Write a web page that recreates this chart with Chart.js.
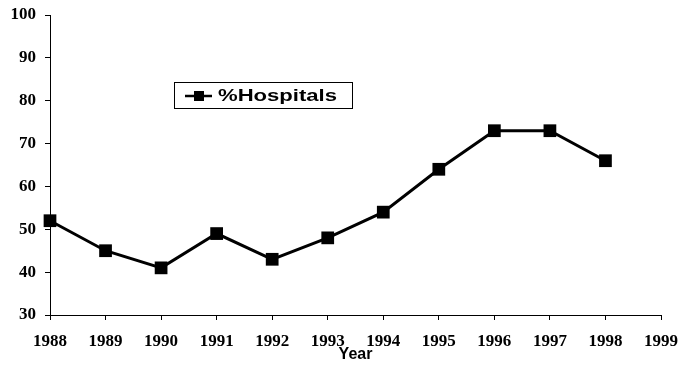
<!DOCTYPE html>
<html>
<head>
<meta charset="utf-8">
<script src="https://cdn.jsdelivr.net/npm/chart.js@4/dist/chart.umd.min.js"></script>
<style>
html,body{margin:0;padding:0;background:#fff;}
canvas{display:block;}
</style>
</head>
<body>
<canvas id="c" width="693" height="368"></canvas>
<script>
const years = ['1988','1989','1990','1991','1992','1993','1994','1995','1996','1997','1998','1999'];
const seriesName = '%Hospitals';
const hospitals = [52, 45, 41, 49, 43, 48, 54, 64, 73, 73, 66];
const yTicks = [30, 40, 50, 60, 70, 80, 90, 100];
const xTitle = 'Year';

const legendBox = {
  id: 'legendBox',
  afterDraw(chart) {
    const ctx = chart.ctx;
    ctx.save();
    ctx.strokeStyle = '#000';
    ctx.lineWidth = 1;
    ctx.strokeRect(174.5, 82.5, 178, 26);
    ctx.lineWidth = 2.5;
    ctx.beginPath();
    ctx.moveTo(185, 96);
    ctx.lineTo(212, 96);
    ctx.stroke();
    ctx.fillStyle = '#000';
    ctx.fillRect(194, 91, 10, 10);
    ctx.font = 'bold 17px "Liberation Sans", Arial, sans-serif';
    ctx.textBaseline = 'middle';
    ctx.textAlign = 'left';
    const w = ctx.measureText(seriesName).width;
    ctx.translate(218, 96);
    ctx.scale(119 / w, 1);
    ctx.fillText(seriesName, 0, 0);
    ctx.restore();
  }
};

new Chart(document.getElementById('c'), {
  type: 'line',
  data: {
    labels: years,
    datasets: [{
      label: seriesName,
      data: hospitals,
      borderColor: '#000',
      backgroundColor: '#000',
      borderWidth: 3,
      pointStyle: 'rect',
      pointRadius: 9,
      pointBorderWidth: 0,
      pointBackgroundColor: '#000',
      tension: 0,
      fill: false
    }]
  },
  options: {
    responsive: false,
    animation: false,
    layout: { padding: { top: 15, right: 32, left: 0, bottom: 0 } },
    plugins: {
      legend: { display: false },
      tooltip: { enabled: false }
    },
    scales: {
      x: {
        type: 'category',
        offset: false,
        afterFit(s) { s.height = 53; },
        grid: { display: true, drawOnChartArea: false, drawTicks: true, tickLength: 5, color: '#000', lineWidth: 1 },
        border: { display: true, color: '#000', width: 1 },
        ticks: {
          color: '#000',
          font: { family: '"Liberation Serif", "Times New Roman", serif', size: 17, weight: 'bold' },
          padding: 11,
          maxRotation: 0,
          autoSkip: false
        },
        title: {
          display: true,
          text: xTitle,
          color: '#000',
          font: { family: '"Liberation Sans", Arial, sans-serif', size: 16, weight: 'bold' },
          padding: { top: 0, bottom: 4 }
        }
      },
      y: {
        min: 30,
        max: 100,
        afterFit(s) { s.width = 50; s.paddingTop = 0; s.paddingBottom = 0; },
        afterBuildTicks(s) { s.ticks = yTicks.map(v => ({ value: v })); },
        grid: { display: true, drawOnChartArea: false, drawTicks: true, tickLength: 5, color: '#000', lineWidth: 1 },
        border: { display: true, color: '#000', width: 1 },
        ticks: {
          color: '#000',
          font: { family: '"Liberation Serif", "Times New Roman", serif', size: 17, weight: 'bold' },
          padding: 9
        }
      }
    }
  },
  plugins: [legendBox]
});
</script>
</body>
</html>
